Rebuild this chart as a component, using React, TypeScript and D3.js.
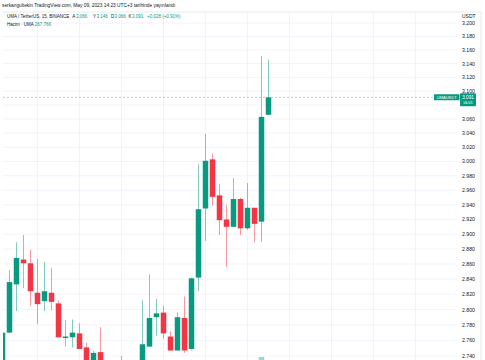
import React from "react";
import * as d3 from "d3";

// UMA / USDT 15m candles (index 0 = leftmost)
const opens = [2.72, 2.77, 2.833, 2.866, 2.861, 2.822, 2.811, 2.822, 2.808, 2.763, 2.764, 2.769, 2.751, 2.73, 2.745, 2.716, 2.705, 2.712, 2.72, 2.715, 2.725, 2.752, 2.79, 2.796, 2.765, 2.747, 2.789, 2.749, 2.842, 2.935, 3.003, 2.953, 2.92, 2.91, 2.948, 2.908, 2.936, 2.917, 3.066];
const highs = [2.771, 2.852, 2.889, 2.899, 2.879, 2.867, 2.863, 2.855, 2.812, 2.786, 2.787, 2.782, 2.757, 2.747, 2.777, 2.725, 2.722, 2.74, 2.728, 2.73, 2.812, 2.846, 2.814, 2.805, 2.772, 2.796, 2.817, 2.842, 2.996, 3.039, 3.011, 2.969, 2.94, 2.977, 2.95, 2.97, 2.936, 3.151, 3.146];
const lows = [2.716, 2.769, 2.798, 2.828, 2.805, 2.781, 2.798, 2.799, 2.764, 2.752, 2.751, 2.749, 2.725, 2.728, 2.71, 2.698, 2.695, 2.7, 2.705, 2.708, 2.72, 2.752, 2.766, 2.762, 2.747, 2.747, 2.744, 2.747, 2.824, 2.891, 2.939, 2.899, 2.856, 2.91, 2.899, 2.906, 2.889, 2.89, 3.066];
const closes = [2.77, 2.836, 2.868, 2.861, 2.824, 2.807, 2.824, 2.81, 2.764, 2.765, 2.77, 2.749, 2.728, 2.744, 2.716, 2.705, 2.712, 2.72, 2.715, 2.725, 2.755, 2.789, 2.795, 2.769, 2.747, 2.79, 2.747, 2.841, 2.934, 3.001, 2.951, 2.919, 2.91, 2.948, 2.908, 2.936, 2.914, 3.063, 3.091];
const volumes = [90000, 160000, 120000, 80000, 110000, 70000, 50000, 45000, 120000, 40000, 35000, 60000, 80000, 50000, 90000, 70000, 40000, 45000, 30000, 35000, 110000, 130000, 40000, 60000, 50000, 90000, 80000, 200000, 300000, 350000, 180000, 120000, 100000, 90000, 80000, 70000, 60000, 600000, 267760];

const priceTicks = [3.2, 3.18, 3.16, 3.14, 3.12, 3.1, 3.08, 3.06, 3.04, 3.02, 3.0, 2.98, 2.96, 2.94, 2.92, 2.9, 2.88, 2.86, 2.84, 2.82, 2.8, 2.78, 2.76, 2.74];
const timeGrid = [5, 11, 17, 23, 29, 35, 41, 47, 53, 59];

const lastPrice = 3.091;
const UP = "#089981";
const DOWN = "#f23645";
const TEXT = "#131722";
const FONT = "'Liberation Sans', Arial, sans-serif";

const W = 485;
const H = 360;
const plot = { left: 3, right: 457, top: 12, bottom: 360 };

export default function App() {
  const x = d3.scaleLinear().domain([0, 38]).range([2.5, 268.5]);
  const y = d3.scaleLog().domain([3.2, 2.74]).range([23, 356]);
  const vy = d3.scaleLinear().domain([0, 600000]).range([420, 357]);
  const bw = 5.5;
  const idx = d3.range(closes.length);
  const yl = y(lastPrice);
  const box = { top: yl - 4, bottom: yl + 9 };
  // the last-price tag covers the axis labels underneath it
  const axisLabels = priceTicks.filter((t) => y(t) < box.top - 2 || y(t) > box.bottom + 2);

  return (
    <svg width={W} height={H} style={{ position: "absolute", left: 0, top: 0 }} fontFamily={FONT}>
      <defs>
        <clipPath id="plotclip">
          <rect x={plot.left} y={plot.top} width={plot.right - plot.left} height={plot.bottom - plot.top} />
        </clipPath>
      </defs>
      <rect width={W} height={H} fill="#fff" />

      {/* frame */}
      <line x1={plot.left} x2={481} y1={plot.top} y2={plot.top} stroke="#e0e3eb" strokeWidth={0.8} />
      <line x1={481} x2={481} y1={plot.top} y2={H} stroke="#e0e3eb" strokeWidth={0.8} />

      <g clipPath="url(#plotclip)">
        {priceTicks.map((t) => (
          <line key={t} x1={plot.left} x2={plot.right} y1={y(t)} y2={y(t)} stroke="#f0f3fa" strokeWidth={1} />
        ))}
        {timeGrid.map((i) => (
          <line key={i} x1={x(i)} x2={x(i)} y1={plot.top} y2={plot.bottom} stroke="#f0f3fa" strokeWidth={1} />
        ))}

        {/* volume */}
        {idx.map((i) => (
          <rect key={"v" + i} x={x(i) - bw / 2} y={vy(volumes[i])} width={bw} height={vy(0) - vy(volumes[i])}
            fill={closes[i] >= opens[i] ? UP : DOWN} opacity={0.4} />
        ))}

        {/* candles */}
        {idx.map((i) => {
          const c = closes[i] >= opens[i] ? UP : DOWN;
          const top = y(Math.max(opens[i], closes[i]));
          const bot = y(Math.min(opens[i], closes[i]));
          return (
            <g key={i}>
              <line x1={x(i)} x2={x(i)} y1={y(highs[i])} y2={y(lows[i])} stroke={c} strokeWidth={1} opacity={0.5} />
              <rect x={x(i) - bw / 2} y={top} width={bw} height={Math.max(1, bot - top)} fill={c} />
            </g>
          );
        })}

        <line x1={plot.left} x2={plot.right} y1={yl} y2={yl} stroke={UP} strokeWidth={0.8} strokeDasharray="2 2" opacity={0.45} />
      </g>

      {/* price axis */}
      <text x={462} y={15.7} fontSize={5} fill={TEXT} dominantBaseline="central">USDT</text>
      {axisLabels.map((t) => (
        <text key={t} x={462} y={y(t)} fontSize={5.2} fill={TEXT} dominantBaseline="central">
          {t.toFixed(3)}
        </text>
      ))}

      {/* last price labels */}
      <rect x={434} y={yl - 3} width={25.5} height={6} fill={UP} rx={0.5} />
      <text x={446.7} y={yl} fontSize={4} fill="#fff" textAnchor="middle" dominantBaseline="central">UMAUSDT</text>
      <rect x={460} y={box.top} width={16} height={box.bottom - box.top} fill={UP} rx={0.8} />
      <text x={468} y={97.1} fontSize={4.6} fill="#fff" textAnchor="middle" dominantBaseline="central">{lastPrice.toFixed(3)}</text>
      <text x={468} y={102.9} fontSize={3.6} fill="#fff" textAnchor="middle" dominantBaseline="central">06:05</text>

      {/* header */}
      <text x={2} y={5.5} fontSize={4.8} fill={TEXT} dominantBaseline="central">
        serkangultekin TradingView.com, May 09, 2023 14:23 UTC+3 tarihinde yayınlandı
      </text>
      <g fontSize={4.5} dominantBaseline="central">
        <text x={7} y={16.3} fill={TEXT}>UMA / TetherUS, 15, BINANCE</text>
        <text x={72.3} y={16.3} fill={TEXT}>A</text>
        <text x={76} y={16.3} fill={UP}>3.066</text>
        <text x={93} y={16.3} fill={TEXT}>Y</text>
        <text x={96.5} y={16.3} fill={UP}>3.146</text>
        <text x={111} y={16.3} fill={TEXT}>D</text>
        <text x={114.6} y={16.3} fill={UP}>3.066</text>
        <text x={128.5} y={16.3} fill={TEXT}>K</text>
        <text x={132} y={16.3} fill={UP}>3.091</text>
        <text x={147} y={16.3} fill={UP}>+0.028 (+0.91%)</text>
        <text x={7} y={24} fill={TEXT}>Hacim · UMA <tspan fill={UP}>267.76K</tspan></text>
      </g>
    </svg>
  );
}
